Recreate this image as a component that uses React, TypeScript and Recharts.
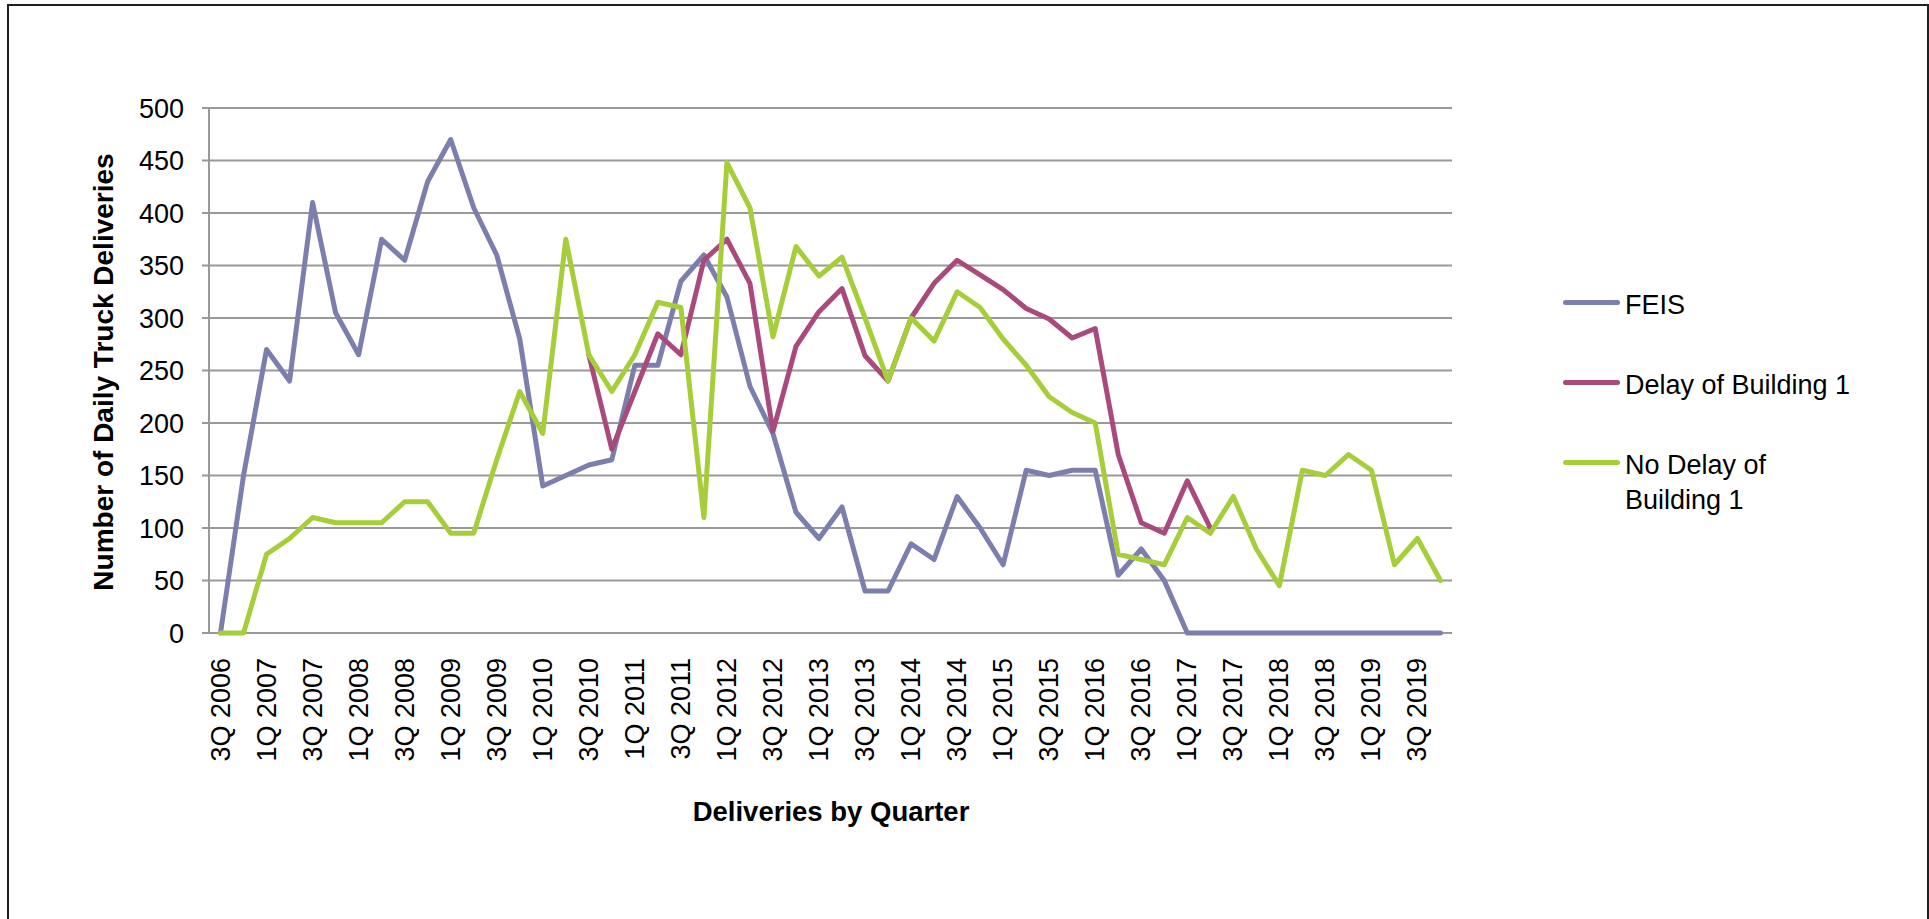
import { LineChart, Line, XAxis, YAxis, CartesianGrid, Legend } from 'recharts';

const quarters = [
  '3Q 2006', '4Q 2006',
  '1Q 2007', '2Q 2007', '3Q 2007', '4Q 2007',
  '1Q 2008', '2Q 2008', '3Q 2008', '4Q 2008',
  '1Q 2009', '2Q 2009', '3Q 2009', '4Q 2009',
  '1Q 2010', '2Q 2010', '3Q 2010', '4Q 2010',
  '1Q 2011', '2Q 2011', '3Q 2011', '4Q 2011',
  '1Q 2012', '2Q 2012', '3Q 2012', '4Q 2012',
  '1Q 2013', '2Q 2013', '3Q 2013', '4Q 2013',
  '1Q 2014', '2Q 2014', '3Q 2014', '4Q 2014',
  '1Q 2015', '2Q 2015', '3Q 2015', '4Q 2015',
  '1Q 2016', '2Q 2016', '3Q 2016', '4Q 2016',
  '1Q 2017', '2Q 2017', '3Q 2017', '4Q 2017',
  '1Q 2018', '2Q 2018', '3Q 2018', '4Q 2018',
  '1Q 2019', '2Q 2019', '3Q 2019', '4Q 2019',
];

const feis = [
  0, 150,
  270, 240, 410, 305,
  265, 375, 355, 430,
  470, 405, 360, 280,
  140, 150, 160, 165,
  255, 255, 335, 360,
  320, 235, 190, 115,
  90, 120, 40, 40,
  85, 70, 130, 100,
  65, 155, 150, 155,
  155, 55, 80, 50,
  0, 0, 0, 0,
  0, 0, 0, 0,
  0, 0, 0, 0,
];

// delay scenario only departs from the no-delay line between 3Q 2010 and 2Q 2017
const delayBuilding1 = [
  null, null,
  null, null, null, null,
  null, null, null, null,
  null, null, null, null,
  null, null, 265, 175,
  230, 285, 265, 355,
  375, 333, 192, 273,
  306, 328, 264, 240,
  300, 333, 355, 341,
  327, 309, 299, 281,
  290, 170, 105, 95,
  145, 100, null, null,
  null, null, null, null,
  null, null, null, null,
];

const noDelayBuilding1 = [
  0, 0,
  75, 90, 110, 105,
  105, 105, 125, 125,
  95, 95, 165, 230,
  190, 375, 265, 230,
  265, 315, 310, 110,
  448, 405, 282, 368,
  340, 358, 300, 240,
  300, 278, 325, 310,
  280, 255, 225, 210,
  200, 75, 70, 65,
  110, 95, 130, 80,
  45, 155, 150, 170,
  155, 65, 90, 50,
];

const yTicks = [0, 50, 100, 150, 200, 250, 300, 350, 400, 450, 500];
// category boundaries for the small tick marks under the axis
const boundaryTicks = quarters.map((_, i) => i).concat(quarters.length);

const series = [
  { key: 'feis', name: 'FEIS', color: '#7c7fae' },
  { key: 'delay', name: 'Delay of Building 1', color: '#aa4a7c' },
  { key: 'noDelay', name: 'No Delay of Building 1', color: '#a6cd3a' },
];

const data = quarters.map((quarter, i) => ({
  quarter,
  feis: feis[i],
  delay: delayBuilding1[i],
  noDelay: noDelayBuilding1[i],
}));

const FONT = '"Liberation Sans", Arial, sans-serif';
const GRID = '#999999';

function QuarterTick({ x, y, payload }: any) {
  return (
    <text
      x={x}
      y={y}
      transform={`rotate(-90, ${x}, ${y})`}
      textAnchor="end"
      dominantBaseline="central"
      fontSize={27}
      fontFamily={FONT}
      fill="#000"
    >
      {payload.value}
    </text>
  );
}

// legend kept in series order (the built-in one sorts by name)
function LegendBox() {
  return (
    <div style={{ fontFamily: FONT, fontSize: 27, lineHeight: '35px', color: '#000' }}>
      {series.map((s) => (
        <div key={s.key} style={{ display: 'flex', alignItems: 'flex-start', marginBottom: 45 }}>
          <div
            style={{
              width: 57,
              height: 5,
              borderRadius: 2.5,
              background: s.color,
              marginTop: 12,
              marginRight: 5,
              flexShrink: 0,
            }}
          />
          <div style={{ width: 240 }}>{s.name}</div>
        </div>
      ))}
    </div>
  );
}

export default function App() {
  return (
    <div
      style={{
        position: 'absolute',
        left: 0,
        top: 0,
        width: 1929,
        height: 919,
        overflow: 'hidden',
        background: '#fff',
        fontFamily: FONT,
      }}
    >
      <div
        style={{
          position: 'absolute',
          left: 7,
          top: 4,
          width: 1922,
          height: 1000,
          boxSizing: 'border-box',
          border: '2px solid #231f20',
        }}
      />
      <div style={{ position: 'absolute', left: 0, top: 0 }}>
        <LineChart
          width={1929}
          height={919}
          data={data}
          margin={{ top: 108, right: 477, bottom: 106, left: 119 }}
        >
          <CartesianGrid xAxisId="q" vertical={false} stroke={GRID} strokeWidth={2} />
          <XAxis
            xAxisId="ticks"
            type="number"
            domain={[0, quarters.length]}
            ticks={boundaryTicks}
            allowDataOverflow
            tick={false}
            tickSize={7}
            height={0}
            axisLine={{ stroke: GRID, strokeWidth: 2 }}
            tickLine={{ stroke: GRID, strokeWidth: 2 }}
          />
          <XAxis
            xAxisId="q"
            dataKey="quarter"
            scale="band"
            interval={1}
            axisLine={false}
            tickLine={false}
            tickSize={0}
            tickMargin={25}
            height={180}
            tick={<QuarterTick />}
          />
          <YAxis
            domain={[0, 500]}
            ticks={yTicks}
            interval={0}
            width={90}
            tickSize={7}
            tickMargin={18}
            axisLine={{ stroke: GRID, strokeWidth: 2 }}
            tickLine={{ stroke: GRID, strokeWidth: 2 }}
            tick={{ fill: '#000', fontSize: 27, fontFamily: FONT }}
          />
          <Legend
            layout="horizontal"
            verticalAlign="middle"
            content={<LegendBox />}
            wrapperStyle={{ left: 1563, top: 288, width: 330 }}
          />
          {series.map((s) => (
            <Line
              key={s.key}
              xAxisId="q"
              type="linear"
              dataKey={s.key}
              name={s.name}
              stroke={s.color}
              strokeWidth={5}
              strokeLinejoin="round"
              strokeLinecap="round"
              dot={false}
              isAnimationActive={false}
            />
          ))}
        </LineChart>
      </div>
      <div
        style={{
          position: 'absolute',
          left: 104,
          top: 372,
          transform: 'translate(-50%, -50%) rotate(-90deg)',
          whiteSpace: 'nowrap',
          fontWeight: 'bold',
          fontSize: 28,
        }}
      >
        Number of Daily Truck Deliveries
      </div>
      <div
        style={{
          position: 'absolute',
          left: 831,
          top: 812,
          transform: 'translate(-50%, -50%)',
          whiteSpace: 'nowrap',
          fontWeight: 'bold',
          fontSize: 27.5,
        }}
      >
        Deliveries by Quarter
      </div>
    </div>
  );
}
